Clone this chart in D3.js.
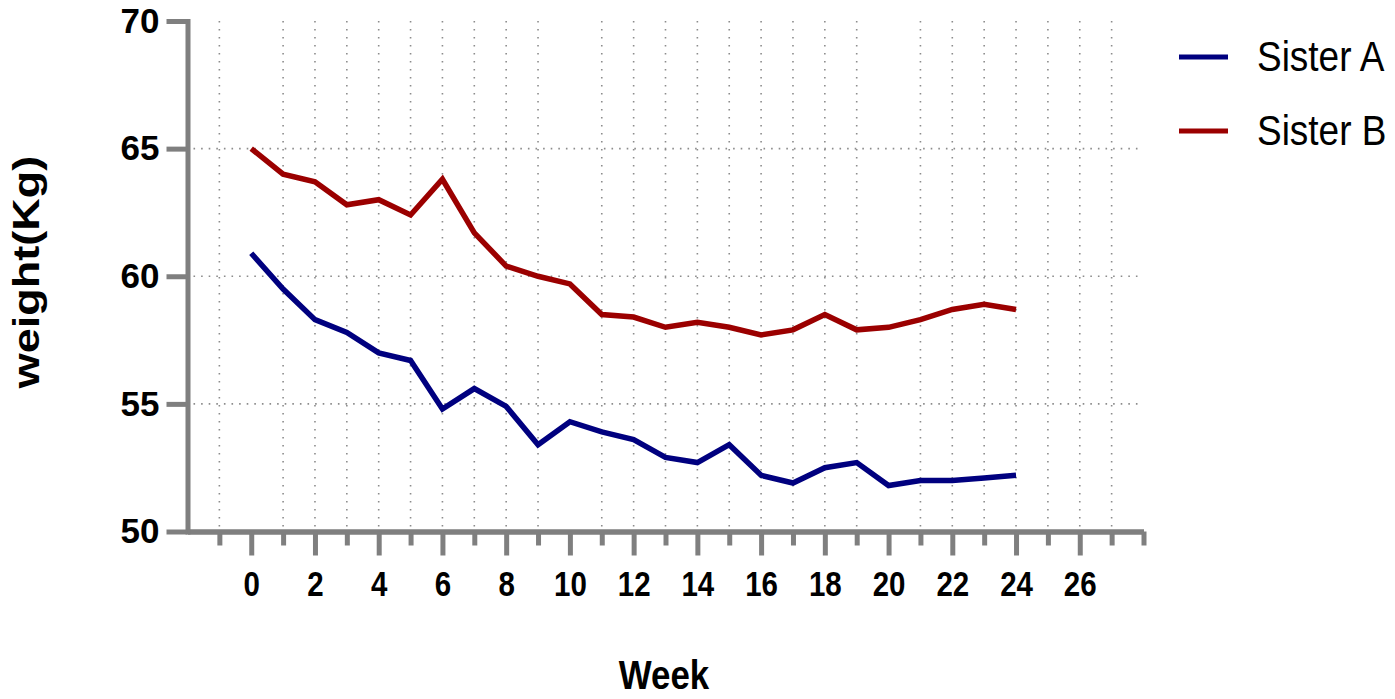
<!DOCTYPE html>
<html lang="en">
<head>
  <meta charset="UTF-8">
  <title>Weight by week</title>
  <script src="https://d3js.org/d3.v7.min.js"></script>
  <style>
    body { margin: 0; background: #fff; }
    text { font-family: "Liberation Sans", Arial, sans-serif; }
  </style>
</head>
<body>
<script>
  // data
  const weeks = [0, 1, 2, 3, 4, 5, 6, 7, 8, 9, 10, 11, 12, 13, 14, 15, 16, 17, 18, 19, 20, 21, 22, 23, 24];
  const sisterA = [60.9, 59.5, 58.3, 57.8, 57.0, 56.7, 54.8, 55.6, 54.9, 53.4, 54.3, 53.9, 53.6,
                   52.9, 52.7, 53.4, 52.2, 51.9, 52.5, 52.7, 51.8, 52.0, 52.0, 52.1, 52.2];
  const sisterB = [65.0, 64.0, 63.7, 62.8, 63.0, 62.4, 63.8, 61.7, 60.4, 60.0, 59.7, 58.5, 58.4,
                   58.0, 58.2, 58.0, 57.7, 57.9, 58.5, 57.9, 58.0, 58.3, 58.7, 58.9, 58.7];
  const seriesNames = ["Sister A", "Sister B"];
  const xMajorTicks = [0, 2, 4, 6, 8, 10, 12, 14, 16, 18, 20, 22, 24, 26];
  const xMinorTicks = [-1, 1, 3, 5, 7, 9, 11, 13, 15, 17, 19, 21, 23, 25, 27, 28];
  const yTicks = [50, 55, 60, 65, 70];
  const vGridWeeks = [-1, 1, 2, 3, 4, 5, 6, 7, 8, 9, 11, 12, 13, 14, 15, 16, 17, 18, 19,
                      21, 22, 23, 24, 25, 26, 27];
  const hGridValues = [55, 60, 65];

  const width = 1395, height = 699;
  const axisColor = "#7f7f7f";
  const colors = ["#00007f", "#9b0000"];

  const svg = d3.select("body").append("svg")
          .attr("width", width)
          .attr("height", height);

  const x = d3.scaleLinear().domain([-2, 28]).range([187.5, 1143.5]);
  const y = d3.scaleLinear().domain([50, 70]).range([531.5, 21]);

  // dotted grid
  const grid = svg.append("g");
  grid.selectAll("line.v")
          .data(vGridWeeks)
          .enter().append("line")
          .attr("class", "v")
          .attr("x1", d => x(d)).attr("x2", d => x(d))
          .attr("y1", y(70)).attr("y2", y(50) - 3)
          .attr("stroke", "#8c8c8c")
          .attr("stroke-width", 1.6)
          .attr("stroke-dasharray", "1.6,6.4");
  grid.selectAll("line.h")
          .data(hGridValues)
          .enter().append("line")
          .attr("class", "h")
          .attr("x1", x(-2) + 6).attr("x2", x(28) - 4)
          .attr("y1", d => y(d)).attr("y2", d => y(d))
          .attr("stroke", "#8c8c8c")
          .attr("stroke-width", 1.6)
          .attr("stroke-dasharray", "1.6,6");

  // x axis: short ticks first, then long ticks with labels
  const xMinor = svg.append("g")
          .attr("transform", `translate(0,${y(50)})`)
          .call(d3.axisBottom(x).tickValues(xMinorTicks).tickSize(14).tickSizeOuter(0).tickFormat(""));
  const xMajor = svg.append("g")
          .attr("transform", `translate(0,${y(50)})`)
          .call(d3.axisBottom(x).tickValues(xMajorTicks).tickSize(24).tickSizeOuter(0).tickPadding(15));
  [xMinor, xMajor].forEach(g => {
    g.select(".domain").attr("stroke", axisColor).attr("stroke-width", 5);
    g.selectAll(".tick line").attr("stroke", axisColor).attr("stroke-width", 5);
  });
  xMajor.selectAll(".tick text")
          .attr("font-size", 36)
          .attr("font-weight", "bold")
          .attr("fill", "#000")
          .attr("transform", "scale(0.82,1)");

  // y axis
  const yAxis = svg.append("g")
          .attr("transform", `translate(${x(-2)},0)`)
          .call(d3.axisLeft(y).tickValues(yTicks).tickSize(21).tickSizeOuter(0).tickPadding(7));
  yAxis.select(".domain").attr("stroke", axisColor).attr("stroke-width", 5).attr("stroke-linecap", "square");
  yAxis.selectAll(".tick line").attr("stroke", axisColor).attr("stroke-width", 5);
  yAxis.selectAll(".tick text")
          .attr("font-size", 35)
          .attr("font-weight", "bold")
          .attr("fill", "#000");

  // lines
  const line = d3.line()
          .x((d, i) => x(weeks[i]))
          .y(d => y(d));
  [sisterA, sisterB].forEach((vals, i) => {
    svg.append("path")
            .datum(vals)
            .attr("d", line)
            .attr("fill", "none")
            .attr("stroke", colors[i])
            .attr("stroke-width", 5.5);
  });

  // axis titles
  svg.append("text")
          .attr("transform", "translate(664,689) scale(0.85,1)")
          .attr("text-anchor", "middle")
          .attr("font-size", 41)
          .attr("font-weight", "bold")
          .text("Week");
  svg.append("text")
          .attr("transform", "translate(39,272) rotate(-90) scale(1,0.82)")
          .attr("text-anchor", "middle")
          .attr("font-size", 45)
          .attr("font-weight", "bold")
          .text("weight(Kg)");

  // legend
  const legend = svg.append("g");
  seriesNames.forEach((name, i) => {
    const ly = 57 + i * 74;
    legend.append("line")
            .attr("x1", 1179).attr("x2", 1228)
            .attr("y1", ly).attr("y2", ly)
            .attr("stroke", colors[i])
            .attr("stroke-width", 5);
    legend.append("text")
            .attr("transform", `translate(1257,${ly + 14}) scale(0.88,1)`)
            .attr("font-size", 42)
            .text(name);
  });
</script>
</body>
</html>
